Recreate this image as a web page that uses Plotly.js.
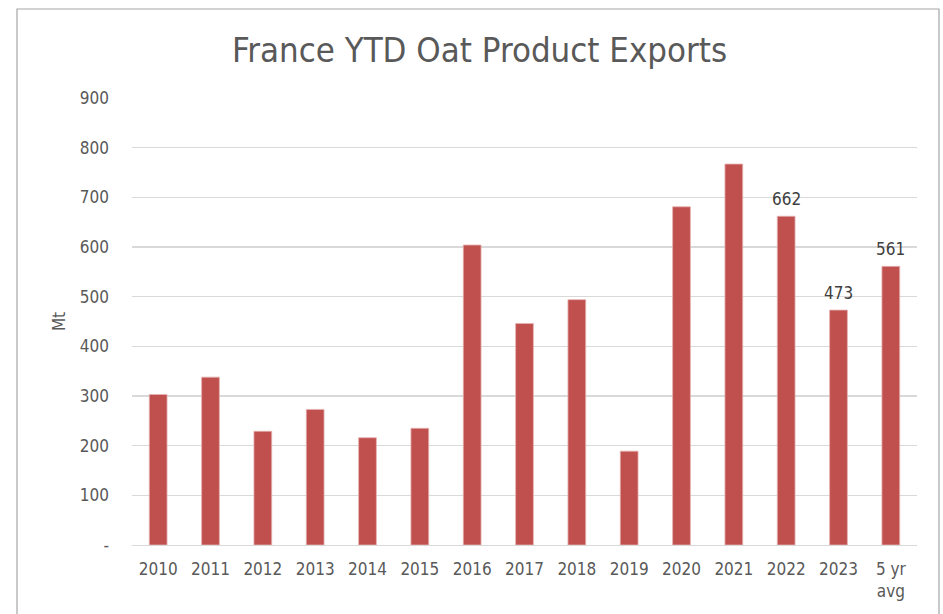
<!DOCTYPE html>
<html>
<head>
<meta charset="utf-8">
<script src="https://cdn.plot.ly/plotly-3.0.1.min.js"></script>
<style>
html,body{margin:0;padding:0;background:#fff;}
#chart{width:943px;height:614px;}
</style>
</head>
<body>
<div id="chart"></div>
<script>
var categories = ["2010","2011","2012","2013","2014","2015","2016","2017","2018","2019","2020","2021","2022","2023","5 yr<br>avg"];
var exportsMt = [303, 338, 229, 273, 216, 235, 604, 446, 494, 189, 681, 767, 662, 473, 561];
var barLabels = ["", "", "", "", "", "", "", "", "", "", "", "", "662", "473", "561"];
var yTickVals = [0, 100, 200, 300, 400, 500, 600, 700, 800, 900];
var yTickText = ["-", "100", "200", "300", "400", "500", "600", "700", "800", "900"];

var FONT = "'DejaVu Sans Condensed', 'Liberation Sans Narrow', 'Liberation Sans', sans-serif";

var trace = {
  type: "bar",
  x: categories,
  y: exportsMt,
  marker: {color: "#c0504d", line: {color: "#e6b3b2", width: 0.8}},
  hoverinfo: "x+y"
};

var annotations = [];
for (var i = 0; i < categories.length; i++) {
  if (barLabels[i]) {
    annotations.push({
      x: i, y: exportsMt[i], xref: "x", yref: "y",
      text: barLabels[i], showarrow: false,
      yanchor: "bottom", yshift: 5,
      font: {family: FONT, size: 17, color: "#404040"}
    });
  }
}

var layout = {
  width: 943,
  height: 614,
  margin: {l: 132, r: 26, t: 98, b: 69},
  paper_bgcolor: "#ffffff",
  plot_bgcolor: "#ffffff",
  bargap: 0.66,
  showlegend: false,
  font: {family: FONT, size: 17, color: "#595959"},
  title: {
    text: "France YTD Oat Product Exports",
    font: {family: FONT, size: 34.5, color: "#595959"},
    x: 0.5085, xanchor: "center", xref: "container",
    y: 0.918, yanchor: "middle", yref: "container"
  },
  xaxis: {
    type: "category",
    categoryarray: categories,
    categoryorder: "array",
    range: [-0.5, categories.length - 0.5],
    showgrid: false,
    showline: true,
    linecolor: "#d9d9d9",
    linewidth: 1.3,
    layer: "above traces",
    ticks: "",
    ticklabelstandoff: 8,
    tickfont: {family: FONT, size: 17, color: "#595959"},
    fixedrange: true
  },
  yaxis: {
    range: [0, 900],
    tickvals: yTickVals,
    ticktext: yTickText,
    showgrid: true,
    gridcolor: "#d9d9d9",
    gridwidth: 1.3,
    zeroline: false,
    showline: false,
    ticks: "",
    ticklabelstandoff: 22,
    tickfont: {family: FONT, size: 17, color: "#595959"},
    title: {text: "Mt", font: {family: FONT, size: 17, color: "#595959"}, standoff: 9},
    fixedrange: true
  },
  annotations: annotations,
  shapes: [{
    type: "rect", xref: "paper", yref: "paper",
    x0: (17 - 132) / 785, x1: (939 - 132) / 785,
    y0: (545 - 640) / 447, y1: (545 - 9) / 447,
    line: {color: "#a6a6a6", width: 1.2},
    fillcolor: "rgba(0,0,0,0)",
    layer: "below"
  }]
};

Plotly.newPlot("chart", [trace], layout, {displayModeBar: false, staticPlot: true});
</script>
</body>
</html>
